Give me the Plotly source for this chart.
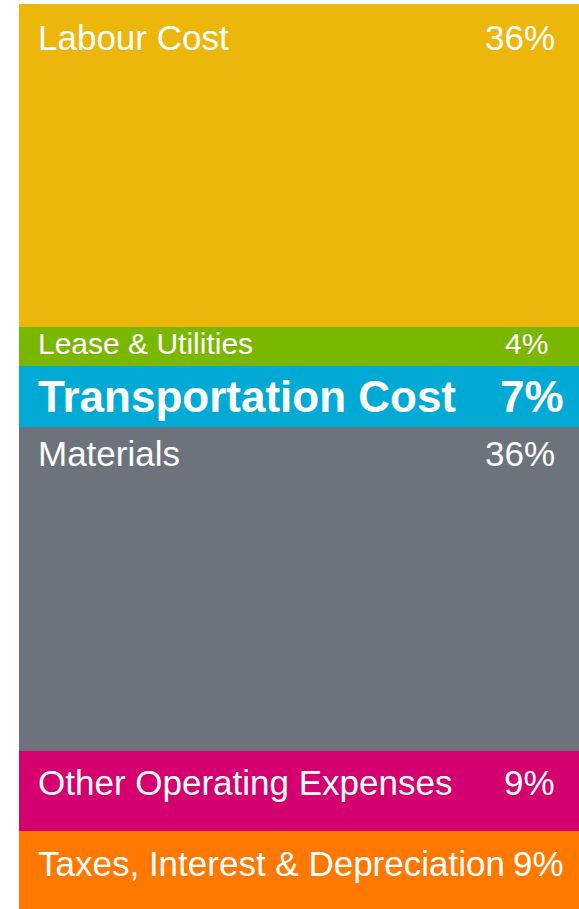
import plotly.graph_objects as go

categories = ["Labour Cost", "Lease & Utilities", "Transportation Cost", "Materials",
              "Other Operating Expenses", "Taxes, Interest & Depreciation"]
# segment heights as drawn in the picture (percent of the bar)
values = [36.1, 4.3, 6.8, 36.2, 8.9, 8.7]
pct_labels = ["36%", "4%", "7%", "36%", "9%", "9%"]

colors = ["#ECB60A", "#7AB800", "#00AAD4", "#6D737D", "#D4006F", "#FF7800"]
font_sizes = [35, 30, 44, 35, 35, 35]
bold = [False, False, True, False, False, False]
label_offset_px = [33, 16, 30, 27, 31, 32]   # text centre below segment top
pct_right_px = [22, 29, 13, 22, 22, 13]       # distance of % right edge from right side

FONT = "Liberation Sans, Arial, sans-serif"

fig = go.Figure()
for cat, v, c in zip(categories, values, colors):
    fig.add_trace(go.Bar(x=["Cost"], y=[v], name=cat, marker=dict(color=c, line=dict(width=0)),
                         hoverinfo="name"))

total = sum(values)
annotations = []
start = 0
for i, (cat, v) in enumerate(zip(categories, values)):
    weight = "bold" if bold[i] else "normal"
    common = dict(yref="y", y=start, yanchor="middle", yshift=-label_offset_px[i],
                  showarrow=False,
                  font=dict(family=FONT, size=font_sizes[i], color="white", weight=weight))
    annotations.append(dict(text=cat, xref="paper", x=0, xanchor="left", xshift=17, **common))
    annotations.append(dict(text=pct_labels[i], xref="paper", x=1, xanchor="right",
                            xshift=-pct_right_px[i], **common))
    start += v

fig.update_layout(
    width=579, height=909,
    margin=dict(l=19, r=0, t=4, b=0),
    barmode="stack", bargap=0,
    showlegend=False,
    paper_bgcolor="white", plot_bgcolor="white",
    xaxis=dict(visible=False),
    yaxis=dict(visible=False, range=[total, 0]),
    annotations=annotations,
)
fig.write_html("out.html", config={"displayModeBar": False},
               post_script="document.body.style.margin='0';document.body.style.overflow='hidden';")
